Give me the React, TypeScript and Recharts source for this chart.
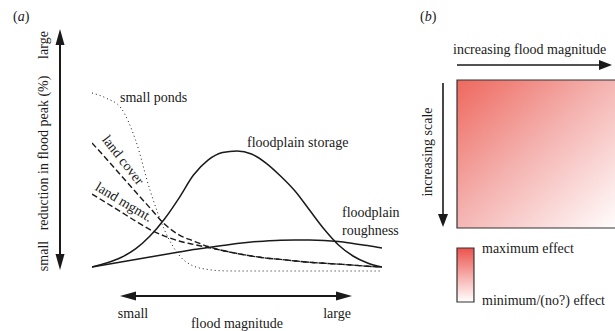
import React from 'react';
import { LineChart, Line, XAxis, YAxis, ReferenceLine, ReferenceArea, ComposedChart } from 'recharts';

// ---- data (panel a) ----
const magnitude = [0, 5, 10, 15, 20, 25, 30, 35, 40, 45, 50, 55, 60, 65, 70, 75, 80, 85, 90, 95, 100];
const smallPonds = [95.8, 93.0, 87.9, 71.1, 44.7, 23.7, 10.5, 4.7, 2.9, 2.2, 2.1, 2.1, 2.1, 2.1, 2.1, 2.1, 2.1, 2.1, 2.1, 2.1, 2.1];
const landCover = [69.5, 61.1, 52.4, 43.8, 35.3, 26.8, 21.1, 17.9, 15.0, 12.9, 11.3, 10.0, 8.9, 8.2, 7.4, 6.7, 6.2, 5.7, 5.2, 4.6, 4.2];
const landMgmt = [42.6, 37.9, 33.2, 28.4, 23.9, 20.5, 17.9, 16.1, 14.5, 12.9, 11.3, 10.0, 8.9, 8.2, 7.4, 6.7, 6.2, 5.7, 5.2, 4.6, 4.2];
const floodplainStorage = [4.2, 6.3, 9.2, 13.7, 20.5, 29.5, 40.5, 52.6, 60.5, 64.5, 65.3, 63.7, 58.9, 52.1, 44.2, 34.2, 24.2, 15.8, 10.0, 6.3, 4.2];
const floodplainRoughness = [4.2, 5.5, 6.8, 8.2, 9.5, 10.8, 12.1, 13.4, 14.5, 15.5, 16.6, 17.4, 17.9, 18.3, 18.4, 18.4, 18.2, 17.6, 16.6, 15.5, 14.2];

// ---- data (panel b) ----
const matrixX = [0, 1];
const matrixY = [0, 1];

const tableA = magnitude.map((m, i) => ({
  m,
  ponds: smallPonds[i],
  cover: landCover[i],
  mgmt: landMgmt[i],
  storage: floodplainStorage[i],
  rough: floodplainRoughness[i],
}));
const tableB = matrixX.map((x, i) => ({ x, y: matrixY[i] }));

const INK = '#1a1a1a';
const FONT = '"Liberation Serif", "DejaVu Serif", serif';

type ArrowOpts = { start?: boolean; end?: boolean; len: number; hw: number; width: number };
const makeArrow = (o: ArrowOpts) => (props: any) => {
  const { x1, y1, x2, y2 } = props;
  const dx = x2 - x1;
  const dy = y2 - y1;
  const L = Math.sqrt(dx * dx + dy * dy) || 1;
  const ux = dx / L;
  const uy = dy / L;
  const px = -uy;
  const py = ux;
  const sx = o.start ? x1 + ux * (o.len - 2) : x1;
  const sy = o.start ? y1 + uy * (o.len - 2) : y1;
  const ex = o.end ? x2 - ux * (o.len - 2) : x2;
  const ey = o.end ? y2 - uy * (o.len - 2) : y2;
  const head = (tx: number, ty: number, dirx: number, diry: number) => {
    const bx = tx - dirx * o.len;
    const by = ty - diry * o.len;
    return `${tx},${ty} ${bx + px * o.hw},${by + py * o.hw} ${bx - px * o.hw},${by - py * o.hw}`;
  };
  return (
    <g>
      <line x1={sx} y1={sy} x2={ex} y2={ey} stroke={INK} strokeWidth={o.width} />
      {o.start && <polygon points={head(x1, y1, -ux, -uy)} fill={INK} />}
      {o.end && <polygon points={head(x2, y2, ux, uy)} fill={INK} />}
    </g>
  );
};

const textStyle: React.CSSProperties = { fontFamily: FONT, fontSize: 14, fill: INK };

export default function App() {
  return (
    <div style={{ position: 'relative', width: 615, height: 331, overflow: 'hidden', background: '#fff' }}>
      <style>{'body{margin:0}'}</style>
      <svg width={0} height={0} style={{ position: 'absolute' }}>
        <defs>
          <linearGradient id="gradMatrix" x1="0" y1="0" x2="1" y2="1">
            <stop offset="0" stopColor="rgb(238,104,94)" />
            <stop offset="0.45" stopColor="rgb(244,176,173)" />
            <stop offset="1" stopColor="rgb(255,255,255)" />
          </linearGradient>
          <linearGradient id="gradBar" x1="0" y1="0" x2="0" y2="1">
            <stop offset="0" stopColor="rgb(236,82,76)" />
            <stop offset="0.5" stopColor="rgb(246,170,168)" />
            <stop offset="1" stopColor="rgb(255,255,255)" />
          </linearGradient>
        </defs>
      </svg>

      <div style={{ position: 'absolute', left: 0, top: 0 }}>
        <LineChart width={400} height={331} data={tableA} margin={{ top: 85, right: 18, bottom: 56, left: 92 }}>
          <XAxis dataKey="m" type="number" domain={[0, 100]} hide allowDataOverflow />
          <YAxis type="number" domain={[0, 100]} hide allowDataOverflow />
          <Line type="monotone" dataKey="ponds" stroke={INK} strokeWidth={1} strokeDasharray="1 3" dot={false} isAnimationActive={false} />
          <Line type="monotone" dataKey="cover" stroke={INK} strokeWidth={1.4} strokeDasharray="6 3" dot={false} isAnimationActive={false} />
          <Line type="monotone" dataKey="mgmt" stroke={INK} strokeWidth={1.4} strokeDasharray="6 3" dot={false} isAnimationActive={false} />
          <Line type="monotone" dataKey="storage" stroke={INK} strokeWidth={1.5} dot={false} isAnimationActive={false} />
          <Line type="monotone" dataKey="rough" stroke={INK} strokeWidth={1.5} dot={false} isAnimationActive={false} />
          <ReferenceLine
            ifOverflow="visible"
            segment={[{ x: -11.03, y: 129.5 }, { x: -11.03, y: 2.6 }]}
            shape={makeArrow({ start: true, end: true, len: 16, hw: 4.5, width: 2 })}
          />
          <ReferenceLine
            ifOverflow="visible"
            segment={[{ x: 9.66, y: -11.05 }, { x: 89.66, y: -11.05 }]}
            shape={makeArrow({ start: true, end: true, len: 16, hw: 4.5, width: 2 })}
          />
        </LineChart>
      </div>

      <div style={{ position: 'absolute', left: 400, top: 0 }}>
        <ComposedChart width={220} height={331} data={tableB} margin={{ top: 80, right: 0, bottom: 103, left: 57 }}>
          <XAxis dataKey="x" type="number" domain={[0, 1]} hide allowDataOverflow />
          <YAxis dataKey="y" type="number" domain={[0, 1]} hide allowDataOverflow />
          <ReferenceArea x1={0} x2={1} y1={0} y2={1} ifOverflow="visible" fill="url(#gradMatrix)" fillOpacity={1} stroke="#333" strokeWidth={1.2} />
          <ReferenceArea x1={0} x2={0.104} y1={-0.5} y2={-0.135} ifOverflow="visible" fill="url(#gradBar)" fillOpacity={1} stroke="#333" strokeWidth={1.2} />
          <ReferenceLine
            ifOverflow="visible"
            segment={[{ x: 0, y: 1.101 }, { x: 0.951, y: 1.101 }]}
            shape={makeArrow({ end: true, len: 13, hw: 5, width: 1.6 })}
          />
          <ReferenceLine
            ifOverflow="visible"
            segment={[{ x: -0.0859, y: 0.98 }, { x: -0.0859, y: 0.007 }]}
            shape={makeArrow({ end: true, len: 13, hw: 5, width: 1.6 })}
          />
        </ComposedChart>
      </div>

      <svg width={615} height={331} style={{ position: 'absolute', left: 0, top: 0, pointerEvents: 'none' }}>
        <g style={textStyle}>
          <text x={13} y={21} style={textStyle}>(<tspan fontStyle="italic">a</tspan>)</text>
          <text x={420} y={21} style={textStyle}>(<tspan fontStyle="italic">b</tspan>)</text>

          <text x={43} y={45} textAnchor="middle" dominantBaseline="central" transform="rotate(-90 43 45)" style={textStyle}>large</text>
          <text x={43} y={153} textAnchor="middle" dominantBaseline="central" transform="rotate(-90 43 153)" style={textStyle}>reduction in flood peak (%)</text>
          <text x={43} y={256} textAnchor="middle" dominantBaseline="central" transform="rotate(-90 43 256)" style={textStyle}>small</text>

          <text x={120} y={97} dominantBaseline="central" style={textStyle}>small ponds</text>
          <text x={247} y={142} dominantBaseline="central" style={textStyle}>floodplain storage</text>
          <text x={342} y={212} dominantBaseline="central" style={textStyle}>floodplain</text>
          <text x={342} y={230} dominantBaseline="central" style={textStyle}>roughness</text>
          <text x={123} y={160} textAnchor="middle" dominantBaseline="central" transform="rotate(52 123 160)" style={textStyle}>land cover</text>
          <text x={124} y={202} textAnchor="middle" dominantBaseline="central" transform="rotate(31 124 202)" style={textStyle}>land mgmt.</text>

          <text x={133} y={313} textAnchor="middle" dominantBaseline="central" style={textStyle}>small</text>
          <text x={337} y={313} textAnchor="middle" dominantBaseline="central" style={textStyle}>large</text>
          <text x={237} y={323} textAnchor="middle" dominantBaseline="central" style={textStyle}>flood magnitude</text>

          <text x={453} y={49} dominantBaseline="central" style={textStyle}>increasing flood magnitude</text>
          <text x={427} y={152} textAnchor="middle" dominantBaseline="central" transform="rotate(-90 427 152)" style={textStyle}>increasing scale</text>
          <text x={482} y={248} dominantBaseline="central" style={textStyle}>maximum effect</text>
          <text x={482} y={300} dominantBaseline="central" style={textStyle}>minimum/(no?) effect</text>
        </g>
      </svg>
    </div>
  );
}
